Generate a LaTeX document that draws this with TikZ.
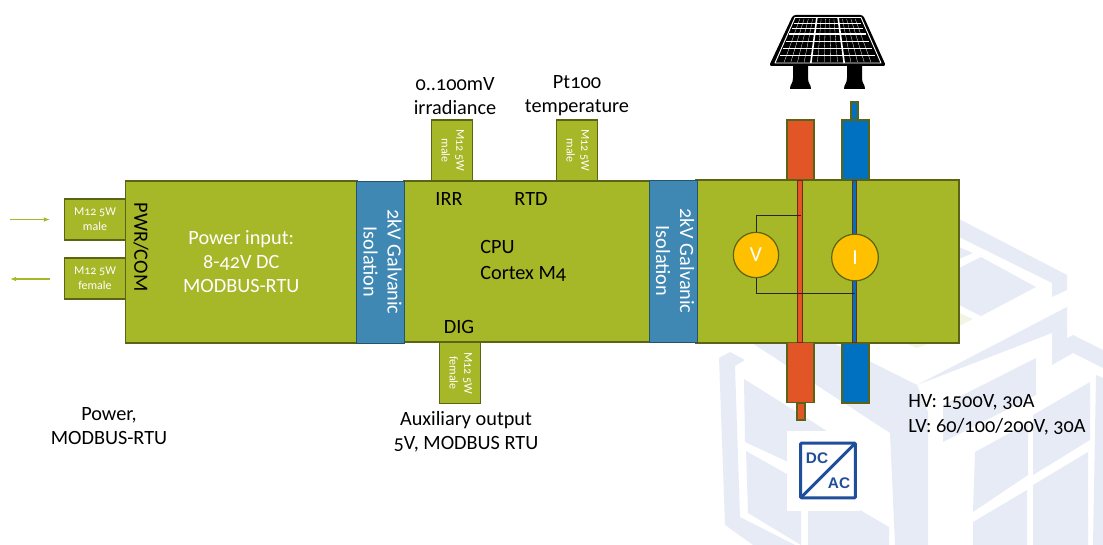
\documentclass[tikz,border=0pt]{standalone}
\usepackage{fontspec}
\setmainfont[Numbers=OldStyle]{Carlito}
\newfontfamily\iconfont{Liberation Sans}
\definecolor{blockgreen}{HTML}{A6B727}
\definecolor{blockedge}{HTML}{5A6414}
\definecolor{isoblue}{HTML}{3F88B4}
\definecolor{hvred}{HTML}{E25526}
\definecolor{lvblue}{HTML}{0070C0}
\definecolor{meteryellow}{HTML}{FFC000}
\definecolor{iconblue}{HTML}{1F4E9A}
\definecolor{logopale}{HTML}{E6EBF5}
\definecolor{logogreen}{HTML}{F2F5E3}
\usetikzlibrary{arrows.meta}
\begin{document}
\begin{tikzpicture}[x=.75pt,y=-.75pt,
block/.style={draw=blockedge,fill=blockgreen,line width=.9pt,inner sep=0pt,outer sep=0pt,text=white,align=center,font=\fontsize{15.2}{18}\selectfont},
iso/.style={block,fill=isoblue,draw=black!40!isoblue,line width=.7pt,minimum width=35pt,minimum height=121.5pt},
plug/.style={block,font=\fontsize{9}{11}\selectfont},
side/.style={plug,minimum width=45.75pt,minimum height=30.75pt},
updown/.style={plug,minimum width=30.4pt,minimum height=45.75pt},
hv/.style={block,fill=hvred},lv/.style={block,fill=lvblue},
term/.style={minimum width=20.25pt,minimum height=45pt},
wirebar/.style={draw=black!50!hvred,line width=.8pt,inner sep=0pt,outer sep=0pt,minimum width=3.4pt,minimum height=122pt},
meter/.style={circle,draw=blockedge,fill=meteryellow,line width=.9pt,minimum size=34pt,inner sep=0pt,outer sep=0pt,text=white,font=\fontsize{16}{18}\selectfont},
lbl/.style={align=center,text=black,inner sep=0pt,font=\fontsize{15.2}{18}\selectfont},
a/.style={-{Latex[length=1.6mm]},draw=blockgreen,line width=.8pt},
wire/.style={draw=black!85,line width=.6pt},
cellline/.style={draw=white,line width=.22pt}]
\useasboundingbox (0,0) rectangle (1103,545);
\fill[logopale] (959,219)--(1067,275)--(1067,290)--(1052,297)--(1052,283)--(959,237)--cycle;
\fill[logopale] (959,247)--(973,253)--(959,259)--cycle;
\fill[logopale] (959,268)--(981,257)--(1036,287)--(981,316)--(959,305)--cycle;
\fill[logogreen] (959,313)--(973,319)--(959,326)--cycle;
\fill[logogreen] (905,343)--(917,348)--(930,343)--cycle;
\fill[logopale] (917,385)--(1067,307)--(1067,338)--(1073,335)--(1103,350)--(1103,368)--(1073,353)--(1052,365)--(1052,333)--cycle;
\fill[logopale] (752,343)--(833,343)--(917,385)--(928,412)--(928,545)--(895,545)--(890,433)--cycle;
\fill[logopale] (1036,358)--(1036,395)--(943,442)--(943,405)--cycle;
\fill[logopale] (719,358)--(730,352)--(745,360)--(735,366)--(740,517)--(795,545)--(753,545)--(725,525)--cycle;
\fill[logopale] (744,379)--(827,431)--(827,480)--(745,442)--cycle;
\fill[logopale] (746,451)--(801,482)--(801,545)--(748,513)--cycle;
\fill[logopale] (808,510)--(860,510)--(889,527)--(889,545)--(808,545)--cycle;
\fill[logopale] (975,452)--(1028,423)--(1028,475)--(973,512)--cycle;
\fill[logopale] (973,522)--(1027,490)--(1027,545)--(973,545)--cycle;
\fill[logopale] (1033,415)--(1090,382)--(1090,440)--(1033,475)--cycle;
\fill[logopale] (1033,485)--(1088,452)--(1088,545)--(1033,545)--cycle;
\fill[logopale] (1096,375)--(1103,378)--(1103,545)--(1093,545)--cycle;
\node[fill=white,minimum width=54.75pt,minimum height=60pt,inner sep=0pt] (dcacback) at (823.5,471) {};
\node[draw=iconblue,fill=white,line width=2.2pt,rounded corners=.6pt,minimum width=41pt,minimum height=41pt,inner sep=0pt,outer sep=0pt] (dcac) at (828,470.5) {};
\draw[draw=iconblue,line width=2.2pt] (dcac.south west)--(dcac.north east);
\node[font=\iconfont\bfseries\fontsize{11.5}{12}\selectfont,text=iconblue,inner sep=0pt] (dc) at (817,458) {DC};
\node[font=\iconfont\bfseries\fontsize{11.5}{12}\selectfont,text=iconblue,inner sep=0pt] (ac) at (839,483) {AC};
\node[block,minimum width=173.6pt,minimum height=121.5pt] (pwr) at (241.25,262) {Power input:\\8-42V DC\\MODBUS-RTU};
\node[block,minimum width=184.5pt,minimum height=120.75pt] (cpu) at (527,261.5) {};
\node[block,minimum width=197.25pt,minimum height=122.25pt] (meas) at (827.5,261.5) {};
\node[iso] (isoa) at (380.5,262) {\rotatebox{-90}{\begin{tabular}{@{}c@{}}2kV Galvanic\\Isolation\end{tabular}}};
\node[iso] (isob) at (673,261) {\rotatebox{-90}{\begin{tabular}{@{}c@{}}2kV Galvanic\\Isolation\end{tabular}}};
\node[side] (inplug) at (95,219.5) {M12 5W\\male};
\node[side] (outplug) at (95,278.5) {M12 5W\\female};
\node[updown] (irrplug) at (452,150.5) {\rotatebox{-90}{\begin{tabular}{@{}c@{}}M12 5W\\male\end{tabular}}};
\node[updown] (rtdplug) at (577,150.5) {\rotatebox{-90}{\begin{tabular}{@{}c@{}}M12 5W\\male\end{tabular}}};
\node[updown] (digplug) at (460,373) {\rotatebox{-90}{\begin{tabular}{@{}c@{}}M12 5W\\female\end{tabular}}};
\coordinate (inleft) at (10,219.5); \coordinate (inright) at (50,219.5);
\coordinate (outright) at (50,279); \coordinate (outleft) at (10,279);
\draw[a] (inleft)--(inright); \draw[a] (outright)--(outleft);
\node[lbl,rotate=-90] (pwrcom) at (141,247) {PWR/COM};
\node[lbl] (irr) at (449,199) {IRR};
\node[lbl] (rtd) at (531,199) {RTD};
\node[lbl] (dig) at (459,327) {DIG};
\node[lbl,align=left,anchor=west,font=\fontsize{15.2}{19.5}\selectfont] (cortex) at (480,261) {CPU\\Cortex M4};
\node[lbl] (irrlabel) at (455,96) {0..100mV\\irradiance};
\node[lbl] (rtdlabel) at (577,95.5) {Pt100\\temperature};
\node[lbl] (auxlabel) at (466,432) {Auxiliary output\\5V, MODBUS RTU};
\node[lbl] (powerlabel) at (109,426) {Power,\\MODBUS-RTU};
\node[lbl,align=left,anchor=west,font=\fontsize{15.2}{18.8}\selectfont] (ratings) at (908,415) {HV: 1500V, 30A\\LV: 60/100/200V, 30A};
\node[hv,term] (hvtop) at (800.5,150) {};
\node[lv,term] (lvtop) at (855.5,150) {};
\node[hv,term] (hvbot) at (800.5,372.5) {};
\node[lv,term] (lvbot) at (855.5,373) {};
\node[hv,minimum width=6pt,minimum height=12.75pt] (hvstub) at (801,411.5) {};
\node[lv,minimum width=5.25pt,minimum height=13.5pt] (lvstub) at (854.5,111) {};
\node[wirebar,fill=hvred] (hvwire) at (800,261.5) {};
\node[wirebar,fill=lvblue] (lvwire) at (854.5,261.5) {};
\node[meter] (vmeter) at (756,255) {V};
\node[meter,minimum size=35pt] (imeter) at (855,257.5) {I};
\coordinate (vtap) at (801,215.5); \coordinate (itap) at (855,293);
\draw[wire] (vmeter.north)|-(vtap);
\draw[wire] (vmeter.south)|-(itap);
\fill[black,rounded corners=2pt] (793,15)--(863,15)--(886,66)--(769,66)--cycle;
\draw[white,line width=.7pt,line join=round] (795,17.5)--(861,17.5)--(881,63)--(775,63)--cycle;
\foreach \k in {1,...,14}{
\draw[cellline] ({827.5+(\k/7.5-1)*32},19)--({827.5+(\k/7.5-1)*50},62);
}
\foreach \k in {5,10}{
\draw[white,line width=1.2pt] ({827.5+(\k/7.5-1)*32},18)--({827.5+(\k/7.5-1)*50},63);
}
\foreach \y/\w in {23/.22,28/.22,34/1.2,41/.22,48/.22,55/.22}{
\pgfmathsetmacro{\hw}{32+(\y-19)*18/43}
\draw[white,line width=\w pt] ({827.5-\hw},\y)--({827.5+\hw},\y);
}
\foreach \c in {800.5,854.5}{
\fill[black] ({\c-7.5},66)--({\c+7.5},66)--({\c+7.5},78) .. controls ({\c+7.5},84) and ({\c+10.5},84) .. ({\c+10.5},89)--({\c-10.5},89) .. controls ({\c-10.5},84) and ({\c-7.5},84) .. ({\c-7.5},78)--cycle;
}
\end{tikzpicture}
\end{document}
